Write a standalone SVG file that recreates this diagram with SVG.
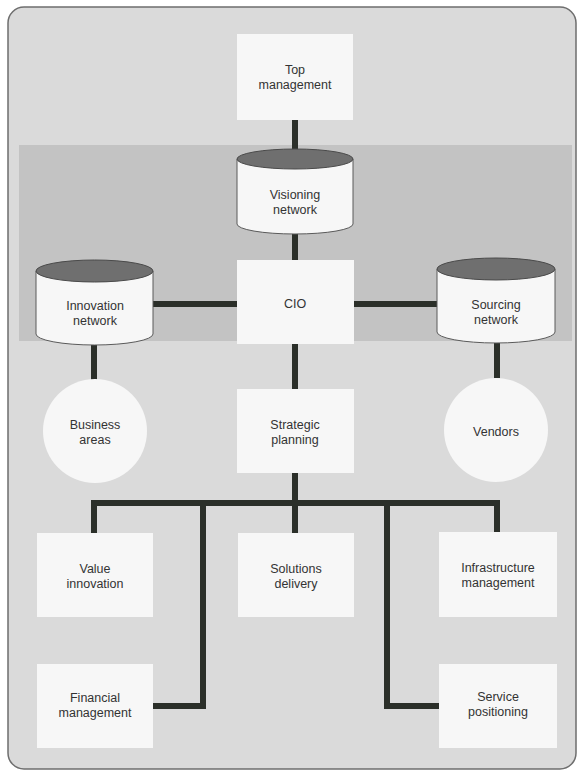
<svg xmlns="http://www.w3.org/2000/svg" width="584" height="775" viewBox="0 0 584 775">
<style>
  .box { fill: #f7f7f7; }
  .cyl-body { fill: #f7f7f7; stroke: #5a5a5a; stroke-width: 1; }
  .cyl-top { fill: #6f6f6f; stroke: #4a4a4a; stroke-width: 1; }
  .circ { fill: #f7f7f7; }
  .lbl { font-family: "Liberation Sans", Arial, sans-serif; font-size: 12.5px; fill: #333333; text-anchor: middle; }
  .conn { stroke: #2b2f29; stroke-width: 6; fill: none; stroke-linejoin: miter; stroke-linecap: butt; }
</style>
<rect x="0" y="0" width="584" height="775" fill="#ffffff"/>
<rect id="frame" x="8" y="7" width="568" height="762" rx="16" ry="16" fill="#dadada" stroke="#6e6e6e" stroke-width="1.5"/>
<rect id="band" x="19" y="145" width="553" height="196" fill="#c3c3c3"/>

<g id="connectors">
  <path class="conn" d="M295 120 V150"/>
  <path class="conn" d="M295 228 V260"/>
  <path class="conn" d="M153 304 H237"/>
  <path class="conn" d="M354 304 H437"/>
  <path class="conn" d="M94 343 V380"/>
  <path class="conn" d="M497 341 V378"/>
  <path class="conn" d="M295 344 V389"/>
  <path class="conn" d="M295 473 V503"/>
  <path class="conn" d="M94 533 V503 H497 V532"/>
  <path class="conn" d="M295 503 V533"/>
  <path class="conn" d="M203 503 V706 H153"/>
  <path class="conn" d="M387 503 V706 H439"/>
</g>

<g id="top-management">
  <rect class="box" x="237" y="34" width="116" height="86"/>
  <text class="lbl" x="295" y="74">Top</text>
  <text class="lbl" x="295" y="89">management</text>
</g>

<g id="visioning-network">
  <path class="cyl-body" d="M237 159 V224 A58 10 0 0 0 353 224 V159 Z"/>
  <ellipse class="cyl-top" cx="295" cy="159" rx="58" ry="10"/>
  <text class="lbl" x="295" y="199">Visioning</text>
  <text class="lbl" x="295" y="214">network</text>
</g>

<g id="cio">
  <rect class="box" x="237" y="260" width="117" height="84"/>
  <text class="lbl" x="295" y="308">CIO</text>
</g>

<g id="innovation-network">
  <path class="cyl-body" d="M36 271 V334 A58.5 11 0 0 0 153 334 V271 Z"/>
  <ellipse class="cyl-top" cx="94.5" cy="271" rx="58.5" ry="11"/>
  <text class="lbl" x="95" y="310">Innovation</text>
  <text class="lbl" x="95" y="325">network</text>
</g>

<g id="sourcing-network">
  <path class="cyl-body" d="M437 269 V332 A59 11 0 0 0 555 332 V269 Z"/>
  <ellipse class="cyl-top" cx="496" cy="269" rx="59" ry="11"/>
  <text class="lbl" x="496" y="309">Sourcing</text>
  <text class="lbl" x="496" y="324">network</text>
</g>

<g id="business-areas">
  <circle class="circ" cx="95" cy="431" r="52"/>
  <text class="lbl" x="95" y="429">Business</text>
  <text class="lbl" x="95" y="444">areas</text>
</g>

<g id="vendors">
  <circle class="circ" cx="496" cy="430" r="52"/>
  <text class="lbl" x="496" y="436">Vendors</text>
</g>

<g id="strategic-planning">
  <rect class="box" x="237" y="389" width="117" height="84"/>
  <text class="lbl" x="295" y="429">Strategic</text>
  <text class="lbl" x="295" y="444">planning</text>
</g>

<g id="value-innovation">
  <rect class="box" x="37" y="533" width="116" height="84"/>
  <text class="lbl" x="95" y="573">Value</text>
  <text class="lbl" x="95" y="588">innovation</text>
</g>

<g id="solutions-delivery">
  <rect class="box" x="238" y="533" width="116" height="84"/>
  <text class="lbl" x="296" y="573">Solutions</text>
  <text class="lbl" x="296" y="588">delivery</text>
</g>

<g id="infrastructure-management">
  <rect class="box" x="439" y="532" width="118" height="85"/>
  <text class="lbl" x="498" y="572">Infrastructure</text>
  <text class="lbl" x="498" y="587">management</text>
</g>

<g id="financial-management">
  <rect class="box" x="37" y="664" width="116" height="84"/>
  <text class="lbl" x="95" y="702">Financial</text>
  <text class="lbl" x="95" y="717">management</text>
</g>

<g id="service-positioning">
  <rect class="box" x="439" y="664" width="118" height="84"/>
  <text class="lbl" x="498" y="701">Service</text>
  <text class="lbl" x="498" y="716">positioning</text>
</g>
</svg>
